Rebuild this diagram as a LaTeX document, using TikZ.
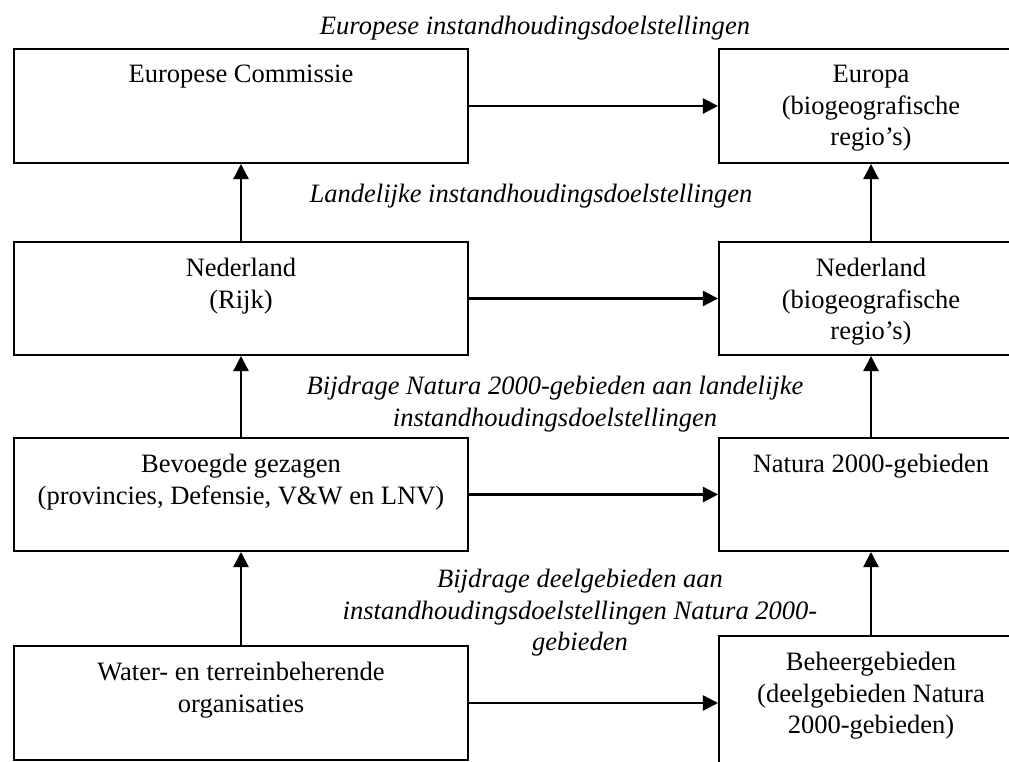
\documentclass[tikz,border=0pt]{standalone}
\usepackage{fontspec}
\setmainfont{Liberation Serif}
\usetikzlibrary{positioning,arrows.meta}
\begin{document}
\begin{tikzpicture}[x=0.0159cm, y=-0.0159cm, >={Triangle[length=6.8pt,width=6.8pt]},
    mybox/.style={draw, line width=0.9pt, anchor=north west, inner sep=0pt},
    mytext/.style={align=center, inner sep=0pt, font=\fontsize{12}{14.2}\selectfont},
    mylabel/.style={align=center, inner sep=0pt, font=\fontsize{12}{14.2}\selectfont\itshape},
    myarrow/.style={->, line width=1pt}]
    \useasboundingbox (0,0) rectangle (1009,762);
    \clip (0,0) rectangle (1009,762);
    \foreach \n/\y/\h/\txt in {1/48/114/{Europese Commissie},
        2/241/113/{Nederland\\(Rijk)},
        3/437/113/{Bevoegde gezagen\\(provincies, Defensie, V\&W en LNV)},
        4/645/114/{Water- en terreinbeherende\\organisaties}}{
      \node[mybox, minimum width=454*0.0159cm, minimum height=\h*0.0159cm] (l\n) at (13,\y) {};
      \node[mytext, below=0.27cm of l\n.north] (lt\n) {\txt};
    }
    \foreach \n/\y/\h/\txt in {1/48/114/{Europa\\(biogeografische\\regio’s)},
        2/241/113/{Nederland\\(biogeografische\\regio’s)},
        3/437/113/{Natura 2000-gebieden},
        4/635/145/{Beheergebieden\\(deelgebieden Natura\\2000-gebieden)}}{
      \node[mybox, minimum width=304*0.0159cm, minimum height=\h*0.0159cm] (r\n) at (718,\y) {};
      \node[mytext, below=0.27cm of r\n.north] (rt\n) {\txt};
    }
    \foreach \n in {1,2,3,4}{
      \draw[myarrow] (l\n.east) -- (l\n.east -| r\n.west);
    }
    \foreach \n/\m in {2/1,3/2,4/3}{
      \draw[myarrow] (l\n.north) -- (l\m.south);
      \draw[myarrow] (r\n.north) -- (r\m.south);
    }
    \node[mylabel, anchor=base] (euro) at (535,35) {Europese instandhoudingsdoelstellingen};
    \node[mylabel, anchor=base] (land) at (531,203) {Landelijke instandhoudingsdoelstellingen};
    \node[mylabel, anchor=north] (bijn) at (555,376) {Bijdrage Natura 2000-gebieden aan landelijke\\instandhoudingsdoelstellingen};
    \node[mylabel, anchor=north] (bijd) at (580,569) {Bijdrage deelgebieden aan\\instandhoudingsdoelstellingen Natura 2000-\\gebieden};
\end{tikzpicture}
\end{document}
